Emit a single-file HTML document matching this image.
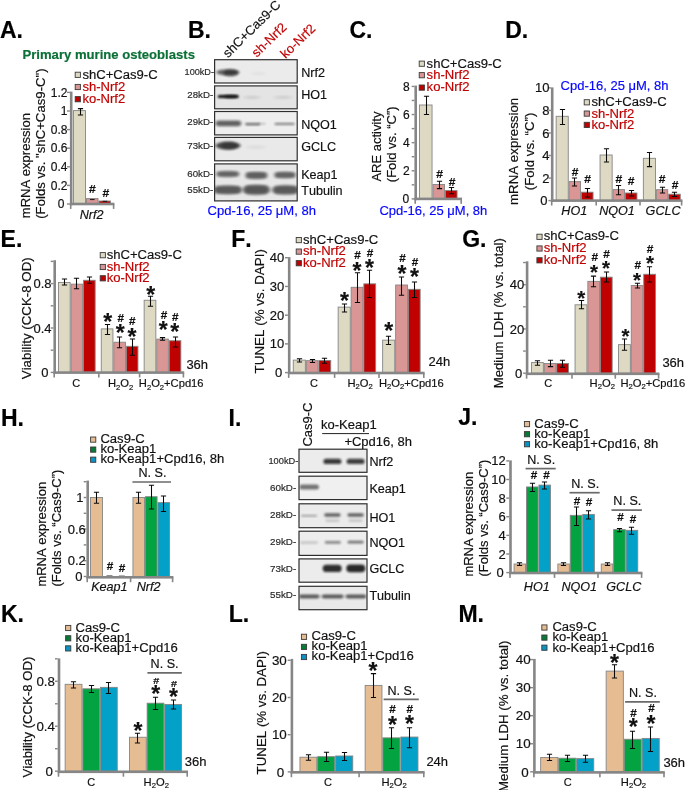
<!DOCTYPE html>
<html><head><meta charset="utf-8"><title>Figure</title>
<style>html,body{margin:0;padding:0;background:#fff}svg{display:block;will-change:transform;opacity:0.9999}text{font-family:"Liberation Sans",sans-serif;font-kerning:none;stroke-width:0.18px}</style></head><body>
<svg width="685" height="790" viewBox="0 0 685 790">
<defs><filter id="b1" x="-30%" y="-80%" width="160%" height="260%"><feGaussianBlur stdDeviation="1.6 1.0"/></filter><filter id="b2" x="-30%" y="-80%" width="160%" height="260%"><feGaussianBlur stdDeviation="1.3 0.8"/></filter><filter id="b3" x="-30%" y="-80%" width="160%" height="260%"><feGaussianBlur stdDeviation="2.2 1.3"/></filter></defs>
<rect width="685" height="790" fill="#fff"/>
<text x="-0.1" y="37.6" font-weight="bold" fill="#000" stroke="#000" font-size="23">A.</text>
<text x="188" y="37.6" font-weight="bold" fill="#000" stroke="#000" font-size="23">B.</text>
<text x="349.5" y="37.6" font-weight="bold" fill="#000" stroke="#000" font-size="23">C.</text>
<text x="505.2" y="37.6" font-weight="bold" fill="#000" stroke="#000" font-size="23">D.</text>
<text x="0.6" y="247.2" font-weight="bold" fill="#000" stroke="#000" font-size="23">E.</text>
<text x="231.3" y="247.2" font-weight="bold" fill="#000" stroke="#000" font-size="23">F.</text>
<text x="462.2" y="247.2" font-weight="bold" fill="#000" stroke="#000" font-size="23">G.</text>
<text x="1" y="425.6" font-weight="bold" fill="#000" stroke="#000" font-size="23">H.</text>
<text x="228.6" y="425.6" font-weight="bold" fill="#000" stroke="#000" font-size="23">I.</text>
<text x="458.2" y="425.4" font-weight="bold" fill="#000" stroke="#000" font-size="23">J.</text>
<text x="1" y="621.8" font-weight="bold" fill="#000" stroke="#000" font-size="23">K.</text>
<text x="228.8" y="622.2" font-weight="bold" fill="#000" stroke="#000" font-size="23">L.</text>
<text x="458.4" y="622.4" font-weight="bold" fill="#000" stroke="#000" font-size="23">M.</text>
<text x="22.5" y="59.3" font-weight="bold" fill="#0b7036" stroke="#0b7036" font-size="13.1">Primary murine osteoblasts</text>
<rect x="73.45" y="110.6" width="12.1" height="93.4" fill="#ddd9c3" stroke="#858585" stroke-width="0.9"/>
<rect x="86.45" y="198.6" width="11.6" height="5.4" fill="#d99694" stroke="#858585" stroke-width="0.9"/>
<rect x="98.95" y="201" width="11.6" height="3" fill="#c00000" stroke="#858585" stroke-width="0.9"/>
<path d="M77.9 108.6H83.1M80.5 108.6V115M77.9 115H83.1" stroke="#0a0a0a" stroke-width="1.05" fill="none"/>
<line x1="90" y1="199.6" x2="94.6" y2="199.6" stroke="#111" stroke-width="1"/>
<line x1="102.6" y1="201.3" x2="107.2" y2="201.3" stroke="#111" stroke-width="1"/>
<rect x="69.9" y="91.6" width="2.6" height="113.7" fill="#868686"/>
<rect x="69.9" y="202.7" width="44.5" height="2.6" fill="#868686"/>
<rect x="69.9" y="204" width="1.6" height="4.9" fill="#868686"/>
<rect x="112.8" y="204" width="1.6" height="4.9" fill="#868686"/>
<rect x="67" y="203.3" width="2.9" height="1.4" fill="#868686"/>
<text x="64.4" y="208.22" text-anchor="end" fill="#111" stroke="#111" font-size="12">0</text>
<rect x="67" y="184.7" width="2.9" height="1.4" fill="#868686"/>
<text x="67.4" y="189.62" text-anchor="end" fill="#111" stroke="#111" font-size="12">0.2</text>
<rect x="67" y="166.1" width="2.9" height="1.4" fill="#868686"/>
<text x="67.4" y="171.02" text-anchor="end" fill="#111" stroke="#111" font-size="12">0.4</text>
<rect x="67" y="147.5" width="2.9" height="1.4" fill="#868686"/>
<text x="67.4" y="152.42" text-anchor="end" fill="#111" stroke="#111" font-size="12">0.6</text>
<rect x="67" y="128.9" width="2.9" height="1.4" fill="#868686"/>
<text x="67.4" y="133.82" text-anchor="end" fill="#111" stroke="#111" font-size="12">0.8</text>
<rect x="67" y="110.3" width="2.9" height="1.4" fill="#868686"/>
<text x="67.4" y="115.22" text-anchor="end" fill="#111" stroke="#111" font-size="12">1</text>
<rect x="67" y="91.7" width="2.9" height="1.4" fill="#868686"/>
<text x="67.4" y="96.62" text-anchor="end" fill="#111" stroke="#111" font-size="12">1.2</text>
<text transform="translate(92.4 192.84) scale(1.14 1)" text-anchor="middle" font-weight="bold" font-size="10.6" fill="#111" stroke="#111" stroke-width="0.45">#</text>
<text transform="translate(105.8 196.64) scale(1.14 1)" text-anchor="middle" font-weight="bold" font-size="10.6" fill="#111" stroke="#111" stroke-width="0.45">#</text>
<text x="91.6" y="219" text-anchor="middle" font-style="italic" fill="#111" stroke="#111" font-size="12.6">Nrf2</text>
<rect x="75.2" y="72.2" width="5.2" height="5.2" fill="#ddd9c3" stroke="#3a3a3a" stroke-width="0.9"/>
<text x="82.4" y="79.1" fill="#111" stroke="#111" font-size="13.08">shC+Cas9-C</text>
<rect x="75.2" y="84.4" width="5.2" height="5.2" fill="#d99694" stroke="#3a3a3a" stroke-width="0.9"/>
<text x="82.4" y="90.8" fill="#c00000" stroke="#c00000" font-size="13.08">sh-Nrf2</text>
<rect x="75.2" y="96.6" width="5.2" height="5.2" fill="#c00000" stroke="#3a3a3a" stroke-width="0.9"/>
<text x="82.4" y="102.6" fill="#c00000" stroke="#c00000" font-size="13.08">ko-Nrf2</text>
<text fill="#111" stroke="#111" transform="translate(29.9 218.2) rotate(-90)" font-size="13.05">mRNA expression</text>
<text fill="#111" stroke="#111" transform="translate(45.4 218.8) rotate(-90)" font-size="13.2">(Folds vs. "shC+Cas9-C")</text>
<rect x="419.45" y="105" width="12.6" height="93.9" fill="#ddd9c3" stroke="#858585" stroke-width="0.9"/>
<rect x="432.95" y="184.5" width="11.6" height="14.4" fill="#d99694" stroke="#858585" stroke-width="0.9"/>
<rect x="445.45" y="190.6" width="11.6" height="8.3" fill="#c00000" stroke="#858585" stroke-width="0.9"/>
<path d="M423.9 96.2H429.1M426.5 96.2V114.5M423.9 114.5H429.1" stroke="#0a0a0a" stroke-width="1.05" fill="none"/>
<path d="M436.9 181.2H442.1M439.5 181.2V188.6M436.9 188.6H442.1" stroke="#0a0a0a" stroke-width="1.05" fill="none"/>
<path d="M448.9 187.5H454.1M451.5 187.5V193.7M448.9 193.7H454.1" stroke="#0a0a0a" stroke-width="1.05" fill="none"/>
<rect x="414.4" y="85.6" width="2.6" height="114.6" fill="#868686"/>
<rect x="414.4" y="197.6" width="47.6" height="2.6" fill="#868686"/>
<rect x="414.4" y="198.9" width="1.6" height="4.9" fill="#868686"/>
<rect x="460.4" y="198.9" width="1.6" height="4.9" fill="#868686"/>
<rect x="411.7" y="198.2" width="2.7" height="1.4" fill="#868686"/>
<text x="409.3" y="203.12" text-anchor="end" fill="#111" stroke="#111" font-size="12">0</text>
<rect x="411.7" y="170.08" width="2.7" height="1.4" fill="#868686"/>
<text x="409.6" y="175" text-anchor="end" fill="#111" stroke="#111" font-size="12">2</text>
<rect x="411.7" y="141.96" width="2.7" height="1.4" fill="#868686"/>
<text x="409.6" y="146.88" text-anchor="end" fill="#111" stroke="#111" font-size="12">4</text>
<rect x="411.7" y="113.84" width="2.7" height="1.4" fill="#868686"/>
<text x="409.6" y="118.76" text-anchor="end" fill="#111" stroke="#111" font-size="12">6</text>
<rect x="411.7" y="85.72" width="2.7" height="1.4" fill="#868686"/>
<text x="409.6" y="90.64" text-anchor="end" fill="#111" stroke="#111" font-size="12">8</text>
<rect x="411.7" y="184.14" width="2.7" height="1.4" fill="#868686"/>
<rect x="411.7" y="156.02" width="2.7" height="1.4" fill="#868686"/>
<rect x="411.7" y="127.9" width="2.7" height="1.4" fill="#868686"/>
<rect x="411.7" y="99.78" width="2.7" height="1.4" fill="#868686"/>
<text transform="translate(439.6 178.04) scale(1.14 1)" text-anchor="middle" font-weight="bold" font-size="10.6" fill="#111" stroke="#111" stroke-width="0.45">#</text>
<text transform="translate(452 185.64) scale(1.14 1)" text-anchor="middle" font-weight="bold" font-size="10.6" fill="#111" stroke="#111" stroke-width="0.45">#</text>
<rect x="419.2" y="61.1" width="5.2" height="5.2" fill="#ddd9c3" stroke="#3a3a3a" stroke-width="0.9"/>
<text x="426.6" y="68" fill="#111" stroke="#111" font-size="13.08">shC+Cas9-C</text>
<rect x="419.2" y="72.6" width="5.2" height="5.2" fill="#d99694" stroke="#3a3a3a" stroke-width="0.9"/>
<text x="426.6" y="79.3" fill="#c00000" stroke="#c00000" font-size="13.08">sh-Nrf2</text>
<rect x="419.2" y="85" width="5.2" height="5.2" fill="#c00000" stroke="#3a3a3a" stroke-width="0.9"/>
<text x="426.6" y="91.4" fill="#c00000" stroke="#c00000" font-size="13.08">ko-Nrf2</text>
<text fill="#111" stroke="#111" transform="translate(381.2 181.6) rotate(-90)" font-size="13">ARE activity</text>
<text fill="#111" stroke="#111" transform="translate(396.3 182.2) rotate(-90)" font-size="13">(Fold vs. “C”)</text>
<text x="379.4" y="215" fill="#0808ff" stroke="#0808ff" font-size="13">Cpd-16, 25 μM, 8h</text>
<rect x="556.15" y="116.3" width="12.1" height="84.3" fill="#ddd9c3" stroke="#858585" stroke-width="0.9"/>
<rect x="569.15" y="181.6" width="11.4" height="19" fill="#d99694" stroke="#858585" stroke-width="0.9"/>
<rect x="581.45" y="192.2" width="11.6" height="8.4" fill="#c00000" stroke="#858585" stroke-width="0.9"/>
<rect x="600.05" y="155" width="12.1" height="45.6" fill="#ddd9c3" stroke="#858585" stroke-width="0.9"/>
<rect x="613.05" y="189.6" width="11.4" height="11" fill="#d99694" stroke="#858585" stroke-width="0.9"/>
<rect x="625.35" y="193" width="11.6" height="7.6" fill="#c00000" stroke="#858585" stroke-width="0.9"/>
<rect x="643.35" y="158.3" width="12.1" height="42.3" fill="#ddd9c3" stroke="#858585" stroke-width="0.9"/>
<rect x="656.35" y="189.7" width="11.4" height="10.9" fill="#d99694" stroke="#858585" stroke-width="0.9"/>
<rect x="668.65" y="194.2" width="11.6" height="6.4" fill="#c00000" stroke="#858585" stroke-width="0.9"/>
<path d="M559.9 109.5H565.1M562.5 109.5V124.4M559.9 124.4H565.1" stroke="#0a0a0a" stroke-width="1.05" fill="none"/>
<path d="M571.9 177.9H577.1M574.5 177.9V186M571.9 186H577.1" stroke="#0a0a0a" stroke-width="1.05" fill="none"/>
<path d="M584.9 188.4H590.1M587.5 188.4V197M584.9 197H590.1" stroke="#0a0a0a" stroke-width="1.05" fill="none"/>
<path d="M603.9 148.7H609.1M606.5 148.7V162M603.9 162H609.1" stroke="#0a0a0a" stroke-width="1.05" fill="none"/>
<path d="M615.9 185.4H621.1M618.5 185.4V194.7M615.9 194.7H621.1" stroke="#0a0a0a" stroke-width="1.05" fill="none"/>
<path d="M628.9 190.5H634.1M631.5 190.5V196M628.9 196H634.1" stroke="#0a0a0a" stroke-width="1.05" fill="none"/>
<path d="M646.9 152.5H652.1M649.5 152.5V166.6M646.9 166.6H652.1" stroke="#0a0a0a" stroke-width="1.05" fill="none"/>
<path d="M659.9 187.2H665.1M662.5 187.2V193M659.9 193H665.1" stroke="#0a0a0a" stroke-width="1.05" fill="none"/>
<path d="M671.9 192.2H677.1M674.5 192.2V196.4M671.9 196.4H677.1" stroke="#0a0a0a" stroke-width="1.05" fill="none"/>
<rect x="550.9" y="87.4" width="2.6" height="114.5" fill="#868686"/>
<rect x="550.9" y="199.3" width="131.5" height="2.6" fill="#868686"/>
<rect x="550.9" y="200.6" width="1.6" height="4.9" fill="#868686"/>
<rect x="595.4" y="200.6" width="1.6" height="4.9" fill="#868686"/>
<rect x="639.2" y="200.6" width="1.6" height="4.9" fill="#868686"/>
<rect x="680.8" y="200.6" width="1.6" height="4.9" fill="#868686"/>
<rect x="548.4" y="199.9" width="2.5" height="1.4" fill="#868686"/>
<text x="547.4" y="205.18" text-anchor="end" fill="#111" stroke="#111" font-size="13">0</text>
<rect x="548.4" y="177.36" width="2.5" height="1.4" fill="#868686"/>
<text x="549.4" y="182.64" text-anchor="end" fill="#111" stroke="#111" font-size="13">2</text>
<rect x="548.4" y="154.82" width="2.5" height="1.4" fill="#868686"/>
<text x="549.4" y="160.1" text-anchor="end" fill="#111" stroke="#111" font-size="13">4</text>
<rect x="548.4" y="132.28" width="2.5" height="1.4" fill="#868686"/>
<text x="549.4" y="137.56" text-anchor="end" fill="#111" stroke="#111" font-size="13">6</text>
<rect x="548.4" y="109.74" width="2.5" height="1.4" fill="#868686"/>
<text x="549.4" y="115.02" text-anchor="end" fill="#111" stroke="#111" font-size="13">8</text>
<rect x="548.4" y="87.2" width="2.5" height="1.4" fill="#868686"/>
<text x="549.4" y="92.48" text-anchor="end" fill="#111" stroke="#111" font-size="13">10</text>
<text transform="translate(575 175.84) scale(1.14 1)" text-anchor="middle" font-weight="bold" font-size="10.6" fill="#111" stroke="#111" stroke-width="0.45">#</text>
<text transform="translate(587.6 183.44) scale(1.14 1)" text-anchor="middle" font-weight="bold" font-size="10.6" fill="#111" stroke="#111" stroke-width="0.45">#</text>
<text transform="translate(618.8 182.74) scale(1.14 1)" text-anchor="middle" font-weight="bold" font-size="10.6" fill="#111" stroke="#111" stroke-width="0.45">#</text>
<text transform="translate(631 185.24) scale(1.14 1)" text-anchor="middle" font-weight="bold" font-size="10.6" fill="#111" stroke="#111" stroke-width="0.45">#</text>
<text transform="translate(662.2 182.74) scale(1.14 1)" text-anchor="middle" font-weight="bold" font-size="10.6" fill="#111" stroke="#111" stroke-width="0.45">#</text>
<text transform="translate(675 188.54) scale(1.14 1)" text-anchor="middle" font-weight="bold" font-size="10.6" fill="#111" stroke="#111" stroke-width="0.45">#</text>
<rect x="584.2" y="99.7" width="5.2" height="5.2" fill="#ddd9c3" stroke="#3a3a3a" stroke-width="0.9"/>
<text x="591.4" y="106.4" fill="#111" stroke="#111" font-size="13.08">shC+Cas9-C</text>
<rect x="584.2" y="111" width="5.2" height="5.2" fill="#d99694" stroke="#3a3a3a" stroke-width="0.9"/>
<text x="591.4" y="117.6" fill="#c00000" stroke="#c00000" font-size="13.08">sh-Nrf2</text>
<rect x="584.2" y="122.3" width="5.2" height="5.2" fill="#c00000" stroke="#3a3a3a" stroke-width="0.9"/>
<text x="591.4" y="128.7" fill="#c00000" stroke="#c00000" font-size="13.08">ko-Nrf2</text>
<text x="560.6" y="89.7" fill="#0808ff" stroke="#0808ff" font-size="13">Cpd-16, 25 μM, 8h</text>
<text text-anchor="middle" fill="#111" stroke="#111" transform="translate(518.2 151.4) rotate(-90)" font-size="13.3">mRNA expression</text>
<text text-anchor="middle" fill="#111" stroke="#111" transform="translate(534.3 151.4) rotate(-90)" font-size="13.3">(Fold vs. “C”)</text>
<text x="574.3" y="214.6" text-anchor="middle" font-style="italic" fill="#111" stroke="#111" font-size="12.6">HO1</text>
<text x="617" y="214.6" text-anchor="middle" font-style="italic" fill="#111" stroke="#111" font-size="12.6">NQO1</text>
<text x="663.1" y="214.6" text-anchor="middle" font-style="italic" fill="#111" stroke="#111" font-size="12.6">GCLC</text>
<rect x="58.45" y="282.49" width="11.7" height="89.91" fill="#ddd9c3" stroke="#858585" stroke-width="0.9"/>
<rect x="71.05" y="284.15" width="11.6" height="88.25" fill="#d99694" stroke="#858585" stroke-width="0.9"/>
<rect x="83.55" y="280.27" width="11.6" height="92.13" fill="#c00000" stroke="#858585" stroke-width="0.9"/>
<rect x="101.25" y="328.89" width="11.7" height="43.51" fill="#ddd9c3" stroke="#858585" stroke-width="0.9"/>
<rect x="113.85" y="342.21" width="11.6" height="30.19" fill="#d99694" stroke="#858585" stroke-width="0.9"/>
<rect x="126.35" y="346.31" width="11.6" height="26.08" fill="#c00000" stroke="#858585" stroke-width="0.9"/>
<rect x="144.15" y="300.25" width="11.7" height="72.15" fill="#ddd9c3" stroke="#858585" stroke-width="0.9"/>
<rect x="156.75" y="339.1" width="11.6" height="33.3" fill="#d99694" stroke="#858585" stroke-width="0.9"/>
<rect x="169.25" y="340.76" width="11.6" height="31.63" fill="#c00000" stroke="#858585" stroke-width="0.9"/>
<path d="M61.9 279H67.1M64.5 279V285M61.9 285H67.1" stroke="#0a0a0a" stroke-width="1.05" fill="none"/>
<path d="M73.9 278.2H79.1M76.5 278.2V288.7M73.9 288.7H79.1" stroke="#0a0a0a" stroke-width="1.05" fill="none"/>
<path d="M86.9 277H92.1M89.5 277V283.2M86.9 283.2H92.1" stroke="#0a0a0a" stroke-width="1.05" fill="none"/>
<path d="M104.9 324.5H110.1M107.5 324.5V334.5M104.9 334.5H110.1" stroke="#0a0a0a" stroke-width="1.05" fill="none"/>
<path d="M116.9 337H122.1M119.5 337V347.7M116.9 347.7H122.1" stroke="#0a0a0a" stroke-width="1.05" fill="none"/>
<path d="M129.9 339H135.1M132.5 339V355.2M129.9 355.2H135.1" stroke="#0a0a0a" stroke-width="1.05" fill="none"/>
<path d="M147.9 296.2H153.1M150.5 296.2V306.2M147.9 306.2H153.1" stroke="#0a0a0a" stroke-width="1.05" fill="none"/>
<path d="M159.9 337.6H165.1M162.5 337.6V340.2M159.9 340.2H165.1" stroke="#0a0a0a" stroke-width="1.05" fill="none"/>
<path d="M172.9 337H178.1M175.5 337V347M172.9 347H178.1" stroke="#0a0a0a" stroke-width="1.05" fill="none"/>
<rect x="53.4" y="260.2" width="2.6" height="113.5" fill="#868686"/>
<rect x="53.4" y="371.3" width="130.8" height="2.6" fill="#868686"/>
<rect x="53.4" y="372.6" width="1.6" height="4.9" fill="#868686"/>
<rect x="98" y="372.6" width="1.6" height="4.9" fill="#868686"/>
<rect x="138.8" y="372.6" width="1.6" height="4.9" fill="#868686"/>
<rect x="182.6" y="372.6" width="1.6" height="4.9" fill="#868686"/>
<rect x="50.7" y="371.7" width="2.7" height="1.4" fill="#868686"/>
<text x="48.6" y="376.98" text-anchor="end" fill="#111" stroke="#111" font-size="13">0</text>
<rect x="50.7" y="327.3" width="2.7" height="1.4" fill="#868686"/>
<text x="51.6" y="332.58" text-anchor="end" fill="#111" stroke="#111" font-size="13">0.4</text>
<rect x="50.7" y="282.9" width="2.7" height="1.4" fill="#868686"/>
<text x="51.6" y="288.18" text-anchor="end" fill="#111" stroke="#111" font-size="13">0.8</text>
<rect x="50.7" y="349.5" width="2.7" height="1.4" fill="#868686"/>
<rect x="50.7" y="305.1" width="2.7" height="1.4" fill="#868686"/>
<rect x="50.7" y="260.7" width="2.7" height="1.4" fill="#868686"/>
<text x="107.8" y="329.57" text-anchor="middle" font-weight="bold" fill="#111" stroke="#111" font-size="23">*</text>
<text x="120.3" y="340.88" text-anchor="middle" font-weight="bold" fill="#111" stroke="#111" font-size="23">*</text>
<text x="132" y="344.77" text-anchor="middle" font-weight="bold" fill="#111" stroke="#111" font-size="23">*</text>
<text x="150.7" y="303.27" text-anchor="middle" font-weight="bold" fill="#111" stroke="#111" font-size="23">*</text>
<text x="163.2" y="338.27" text-anchor="middle" font-weight="bold" fill="#111" stroke="#111" font-size="23">*</text>
<text x="174.7" y="340.27" text-anchor="middle" font-weight="bold" fill="#111" stroke="#111" font-size="23">*</text>
<text transform="translate(120.8 321.93) scale(1.14 1)" text-anchor="middle" font-weight="bold" font-size="10.3" fill="#111" stroke="#111" stroke-width="0.45">#</text>
<text transform="translate(132.3 325.13) scale(1.14 1)" text-anchor="middle" font-weight="bold" font-size="10.3" fill="#111" stroke="#111" stroke-width="0.45">#</text>
<text transform="translate(163.9 318.53) scale(1.14 1)" text-anchor="middle" font-weight="bold" font-size="10.3" fill="#111" stroke="#111" stroke-width="0.45">#</text>
<text transform="translate(175.3 321.33) scale(1.14 1)" text-anchor="middle" font-weight="bold" font-size="10.3" fill="#111" stroke="#111" stroke-width="0.45">#</text>
<rect x="100.2" y="252.6" width="5.2" height="5.2" fill="#ddd9c3" stroke="#3a3a3a" stroke-width="0.9"/>
<text x="106.7" y="258.8" fill="#111" stroke="#111" font-size="13.08">shC+Cas9-C</text>
<rect x="100.2" y="264.4" width="5.2" height="5.2" fill="#d99694" stroke="#3a3a3a" stroke-width="0.9"/>
<text x="106.7" y="270.7" fill="#c00000" stroke="#c00000" font-size="13.08">sh-Nrf2</text>
<rect x="100.2" y="275.7" width="5.2" height="5.2" fill="#c00000" stroke="#3a3a3a" stroke-width="0.9"/>
<text x="106.7" y="282" fill="#c00000" stroke="#c00000" font-size="13.08">ko-Nrf2</text>
<text fill="#111" stroke="#111" transform="translate(31 379.2) rotate(-90)" font-size="13.3">Viability (CCK-8 OD)</text>
<text x="186.4" y="369.3" fill="#111" stroke="#111" font-size="13">36h</text>
<text x="76.3" y="387.3" text-anchor="middle" fill="#111" stroke="#111" font-size="11">C</text>
<text x="108" y="387.3" fill="#111" stroke="#111" font-size="11.2">H<tspan font-size="7.6" dy="2.2">2</tspan><tspan dy="-2.2">O</tspan><tspan font-size="7.6" dy="2.2">2</tspan></text>
<text x="138.8" y="387.3" fill="#111" stroke="#111" font-size="11.2">H<tspan font-size="7.6" dy="2.2">2</tspan><tspan dy="-2.2">O</tspan><tspan font-size="7.6" dy="2.2">2</tspan><tspan dy="-2.2">+Cpd16</tspan></text>
<rect x="293.25" y="360.11" width="12.1" height="12.49" fill="#ddd9c3" stroke="#858585" stroke-width="0.9"/>
<rect x="306.25" y="360.68" width="11.8" height="11.92" fill="#d99694" stroke="#858585" stroke-width="0.9"/>
<rect x="318.95" y="360.54" width="11.8" height="12.06" fill="#c00000" stroke="#858585" stroke-width="0.9"/>
<rect x="338.15" y="307.12" width="12.1" height="65.48" fill="#ddd9c3" stroke="#858585" stroke-width="0.9"/>
<rect x="351.15" y="287.3" width="11.8" height="85.3" fill="#d99694" stroke="#858585" stroke-width="0.9"/>
<rect x="363.85" y="283.86" width="11.8" height="88.74" fill="#c00000" stroke="#858585" stroke-width="0.9"/>
<rect x="382.65" y="340.15" width="12.1" height="32.45" fill="#ddd9c3" stroke="#858585" stroke-width="0.9"/>
<rect x="395.65" y="285" width="11.8" height="87.6" fill="#d99694" stroke="#858585" stroke-width="0.9"/>
<rect x="408.35" y="289.31" width="11.8" height="83.29" fill="#c00000" stroke="#858585" stroke-width="0.9"/>
<path d="M296.9 358.8H302.1M299.5 358.8V362M296.9 362H302.1" stroke="#0a0a0a" stroke-width="1.05" fill="none"/>
<path d="M309.9 359.4H315.1M312.5 359.4V362.4M309.9 362.4H315.1" stroke="#0a0a0a" stroke-width="1.05" fill="none"/>
<path d="M321.9 358.2H327.1M324.5 358.2V363.2M321.9 363.2H327.1" stroke="#0a0a0a" stroke-width="1.05" fill="none"/>
<path d="M341.9 304H347.1M344.5 304V312M341.9 312H347.1" stroke="#0a0a0a" stroke-width="1.05" fill="none"/>
<path d="M354.9 272.7H360.1M357.5 272.7V302.5M354.9 302.5H360.1" stroke="#0a0a0a" stroke-width="1.05" fill="none"/>
<path d="M366.9 270.2H372.1M369.5 270.2V297.5M366.9 297.5H372.1" stroke="#0a0a0a" stroke-width="1.05" fill="none"/>
<path d="M385.9 336.2H391.1M388.5 336.2V344.5M385.9 344.5H391.1" stroke="#0a0a0a" stroke-width="1.05" fill="none"/>
<path d="M398.9 277H404.1M401.5 277V295.2M398.9 295.2H404.1" stroke="#0a0a0a" stroke-width="1.05" fill="none"/>
<path d="M411.9 282H417.1M414.5 282V297.5M411.9 297.5H417.1" stroke="#0a0a0a" stroke-width="1.05" fill="none"/>
<rect x="287.9" y="257.1" width="2.6" height="116.8" fill="#868686"/>
<rect x="287.9" y="371.7" width="136.7" height="2.6" fill="#868686"/>
<rect x="287.9" y="373" width="1.6" height="4.9" fill="#868686"/>
<rect x="333.8" y="373" width="1.6" height="4.9" fill="#868686"/>
<rect x="378.2" y="373" width="1.6" height="4.9" fill="#868686"/>
<rect x="423" y="373" width="1.6" height="4.9" fill="#868686"/>
<rect x="285" y="371.9" width="2.9" height="1.4" fill="#868686"/>
<text x="282.2" y="377.18" text-anchor="end" fill="#111" stroke="#111" font-size="13">0</text>
<rect x="285" y="343.18" width="2.9" height="1.4" fill="#868686"/>
<text x="284.2" y="348.46" text-anchor="end" fill="#111" stroke="#111" font-size="13">10</text>
<rect x="285" y="314.46" width="2.9" height="1.4" fill="#868686"/>
<text x="284.2" y="319.74" text-anchor="end" fill="#111" stroke="#111" font-size="13">20</text>
<rect x="285" y="285.74" width="2.9" height="1.4" fill="#868686"/>
<text x="284.2" y="291.02" text-anchor="end" fill="#111" stroke="#111" font-size="13">30</text>
<rect x="285" y="257.02" width="2.9" height="1.4" fill="#868686"/>
<text x="284.2" y="262.3" text-anchor="end" fill="#111" stroke="#111" font-size="13">40</text>
<text x="344.5" y="309.07" text-anchor="middle" font-weight="bold" fill="#111" stroke="#111" font-size="23">*</text>
<text x="357" y="279.07" text-anchor="middle" font-weight="bold" fill="#111" stroke="#111" font-size="23">*</text>
<text x="369.5" y="276.07" text-anchor="middle" font-weight="bold" fill="#111" stroke="#111" font-size="23">*</text>
<text x="388.7" y="338.57" text-anchor="middle" font-weight="bold" fill="#111" stroke="#111" font-size="23">*</text>
<text x="402" y="282.27" text-anchor="middle" font-weight="bold" fill="#111" stroke="#111" font-size="23">*</text>
<text x="414.5" y="285.27" text-anchor="middle" font-weight="bold" fill="#111" stroke="#111" font-size="23">*</text>
<text transform="translate(357.5 259.43) scale(1.14 1)" text-anchor="middle" font-weight="bold" font-size="10.3" fill="#111" stroke="#111" stroke-width="0.45">#</text>
<text transform="translate(370 256.93) scale(1.14 1)" text-anchor="middle" font-weight="bold" font-size="10.3" fill="#111" stroke="#111" stroke-width="0.45">#</text>
<text transform="translate(402.5 262.43) scale(1.14 1)" text-anchor="middle" font-weight="bold" font-size="10.3" fill="#111" stroke="#111" stroke-width="0.45">#</text>
<text transform="translate(415 265.73) scale(1.14 1)" text-anchor="middle" font-weight="bold" font-size="10.3" fill="#111" stroke="#111" stroke-width="0.45">#</text>
<rect x="296.2" y="237.5" width="5.2" height="5.2" fill="#ddd9c3" stroke="#3a3a3a" stroke-width="0.9"/>
<text x="303" y="243.8" fill="#111" stroke="#111" font-size="13.08">shC+Cas9-C</text>
<rect x="296.2" y="249" width="5.2" height="5.2" fill="#d99694" stroke="#3a3a3a" stroke-width="0.9"/>
<text x="303" y="255.1" fill="#c00000" stroke="#c00000" font-size="13.08">sh-Nrf2</text>
<rect x="296.2" y="260.6" width="5.2" height="5.2" fill="#c00000" stroke="#3a3a3a" stroke-width="0.9"/>
<text x="303" y="266.6" fill="#c00000" stroke="#c00000" font-size="13.08">ko-Nrf2</text>
<text fill="#111" stroke="#111" transform="translate(264.2 373.4) rotate(-90)" font-size="13.4">TUNEL (% vs. DAPI)</text>
<text x="428.6" y="366.2" fill="#111" stroke="#111" font-size="13">24h</text>
<text x="314" y="387" text-anchor="middle" fill="#111" stroke="#111" font-size="11">C</text>
<text x="347.4" y="387" fill="#111" stroke="#111" font-size="11.2">H<tspan font-size="7.6" dy="2.2">2</tspan><tspan dy="-2.2">O</tspan><tspan font-size="7.6" dy="2.2">2</tspan></text>
<text x="379" y="387" fill="#111" stroke="#111" font-size="11.2">H<tspan font-size="7.6" dy="2.2">2</tspan><tspan dy="-2.2">O</tspan><tspan font-size="7.6" dy="2.2">2</tspan><tspan dy="-2.2">+Cpd16</tspan></text>
<rect x="531.45" y="362.58" width="11.9" height="10.62" fill="#ddd9c3" stroke="#858585" stroke-width="0.9"/>
<rect x="544.25" y="363.46" width="11.6" height="9.74" fill="#d99694" stroke="#858585" stroke-width="0.9"/>
<rect x="556.75" y="363.46" width="11.8" height="9.74" fill="#c00000" stroke="#858585" stroke-width="0.9"/>
<rect x="575.05" y="304.82" width="11.9" height="68.38" fill="#ddd9c3" stroke="#858585" stroke-width="0.9"/>
<rect x="587.85" y="281.36" width="11.6" height="91.84" fill="#d99694" stroke="#858585" stroke-width="0.9"/>
<rect x="600.35" y="277.16" width="11.8" height="96.04" fill="#c00000" stroke="#858585" stroke-width="0.9"/>
<rect x="618.45" y="344.65" width="11.9" height="28.55" fill="#ddd9c3" stroke="#858585" stroke-width="0.9"/>
<rect x="631.25" y="285.57" width="11.6" height="87.63" fill="#d99694" stroke="#858585" stroke-width="0.9"/>
<rect x="643.75" y="274.28" width="11.8" height="98.92" fill="#c00000" stroke="#858585" stroke-width="0.9"/>
<path d="M534.9 360.8H540.1M537.5 360.8V365.3M534.9 365.3H540.1" stroke="#0a0a0a" stroke-width="1.05" fill="none"/>
<path d="M547.9 360.3H553.1M550.5 360.3V366.6M547.9 366.6H553.1" stroke="#0a0a0a" stroke-width="1.05" fill="none"/>
<path d="M559.9 360.3H565.1M562.5 360.3V367.3M559.9 367.3H565.1" stroke="#0a0a0a" stroke-width="1.05" fill="none"/>
<path d="M578.9 300.5H584.1M581.5 300.5V308.8M578.9 308.8H584.1" stroke="#0a0a0a" stroke-width="1.05" fill="none"/>
<path d="M590.9 276.1H596.1M593.5 276.1V286.7M590.9 286.7H596.1" stroke="#0a0a0a" stroke-width="1.05" fill="none"/>
<path d="M603.9 271.9H609.1M606.5 271.9V281.9M603.9 281.9H609.1" stroke="#0a0a0a" stroke-width="1.05" fill="none"/>
<path d="M621.9 339H627.1M624.5 339V350.3M621.9 350.3H627.1" stroke="#0a0a0a" stroke-width="1.05" fill="none"/>
<path d="M634.9 283.2H640.1M637.5 283.2V288M634.9 288H640.1" stroke="#0a0a0a" stroke-width="1.05" fill="none"/>
<path d="M646.9 266.8H652.1M649.5 266.8V281.9M646.9 281.9H652.1" stroke="#0a0a0a" stroke-width="1.05" fill="none"/>
<rect x="525.8" y="261.3" width="2.6" height="113.2" fill="#868686"/>
<rect x="525.8" y="372.5" width="133.6" height="2.6" fill="#868686"/>
<rect x="525.8" y="373.8" width="1.6" height="4.9" fill="#868686"/>
<rect x="571.2" y="373.8" width="1.6" height="4.9" fill="#868686"/>
<rect x="614.5" y="373.8" width="1.6" height="4.9" fill="#868686"/>
<rect x="657.8" y="373.8" width="1.6" height="4.9" fill="#868686"/>
<rect x="523.1" y="372.5" width="2.7" height="1.4" fill="#868686"/>
<text x="522.2" y="377.78" text-anchor="end" fill="#111" stroke="#111" font-size="13">0</text>
<rect x="523.1" y="328.24" width="2.7" height="1.4" fill="#868686"/>
<text x="524.2" y="333.52" text-anchor="end" fill="#111" stroke="#111" font-size="13">20</text>
<rect x="523.1" y="283.98" width="2.7" height="1.4" fill="#868686"/>
<text x="524.2" y="289.26" text-anchor="end" fill="#111" stroke="#111" font-size="13">40</text>
<rect x="523.1" y="350.37" width="2.7" height="1.4" fill="#868686"/>
<rect x="523.1" y="306.11" width="2.7" height="1.4" fill="#868686"/>
<rect x="523.1" y="261.85" width="2.7" height="1.4" fill="#868686"/>
<text x="581.2" y="304.76" text-anchor="middle" font-weight="bold" fill="#111" stroke="#111" font-size="20.5">*</text>
<text x="593.9" y="279.06" text-anchor="middle" font-weight="bold" fill="#111" stroke="#111" font-size="20.5">*</text>
<text x="606" y="275.16" text-anchor="middle" font-weight="bold" fill="#111" stroke="#111" font-size="20.5">*</text>
<text x="625.4" y="342.86" text-anchor="middle" font-weight="bold" fill="#111" stroke="#111" font-size="20.5">*</text>
<text x="637.1" y="286.76" text-anchor="middle" font-weight="bold" fill="#111" stroke="#111" font-size="20.5">*</text>
<text x="650" y="270.26" text-anchor="middle" font-weight="bold" fill="#111" stroke="#111" font-size="20.5">*</text>
<text transform="translate(594.7 261.17) scale(1.14 1)" text-anchor="middle" font-weight="bold" font-size="10.4" fill="#111" stroke="#111" stroke-width="0.45">#</text>
<text transform="translate(606.5 257.57) scale(1.14 1)" text-anchor="middle" font-weight="bold" font-size="10.4" fill="#111" stroke="#111" stroke-width="0.45">#</text>
<text transform="translate(637.9 268.77) scale(1.14 1)" text-anchor="middle" font-weight="bold" font-size="10.4" fill="#111" stroke="#111" stroke-width="0.45">#</text>
<text transform="translate(650 252.57) scale(1.14 1)" text-anchor="middle" font-weight="bold" font-size="10.4" fill="#111" stroke="#111" stroke-width="0.45">#</text>
<rect x="536.9" y="234.2" width="5.2" height="5.2" fill="#ddd9c3" stroke="#3a3a3a" stroke-width="0.9"/>
<text x="543.7" y="240.3" fill="#111" stroke="#111" font-size="13.08">shC+Cas9-C</text>
<rect x="536.9" y="245.9" width="5.2" height="5.2" fill="#d99694" stroke="#3a3a3a" stroke-width="0.9"/>
<text x="543.7" y="251.9" fill="#c00000" stroke="#c00000" font-size="13.08">sh-Nrf2</text>
<rect x="536.9" y="257.7" width="5.2" height="5.2" fill="#c00000" stroke="#3a3a3a" stroke-width="0.9"/>
<text x="543.7" y="263.6" fill="#c00000" stroke="#c00000" font-size="13.08">ko-Nrf2</text>
<text fill="#111" stroke="#111" transform="translate(503.2 388.3) rotate(-90)" font-size="13.2">Medium LDH (% vs. total)</text>
<text x="662.4" y="367.3" fill="#111" stroke="#111" font-size="13">36h</text>
<text x="548.2" y="387.2" text-anchor="middle" fill="#111" stroke="#111" font-size="11">C</text>
<text x="589.6" y="387.2" fill="#111" stroke="#111" font-size="11.2">H<tspan font-size="7.6" dy="2.2">2</tspan><tspan dy="-2.2">O</tspan><tspan font-size="7.6" dy="2.2">2</tspan></text>
<text x="620.4" y="387.2" fill="#111" stroke="#111" font-size="11.2">H<tspan font-size="7.6" dy="2.2">2</tspan><tspan dy="-2.2">O</tspan><tspan font-size="7.6" dy="2.2">2</tspan><tspan dy="-2.2">+Cpd16</tspan></text>
<rect x="90.45" y="497.5" width="12.1" height="79" fill="#e6bc93" stroke="#858585" stroke-width="0.9"/>
<line x1="106.5" y1="575.9" x2="112.5" y2="575.9" stroke="#333" stroke-width="0.9"/>
<line x1="118.8" y1="576.1" x2="124.8" y2="576.1" stroke="#333" stroke-width="0.9"/>
<rect x="132.95" y="497.5" width="11.6" height="79" fill="#e6bc93" stroke="#858585" stroke-width="0.9"/>
<rect x="145.45" y="496.71" width="11.6" height="79.79" fill="#03a341" stroke="#858585" stroke-width="0.9"/>
<rect x="157.95" y="502.63" width="11.6" height="73.87" fill="#03a0c8" stroke="#858585" stroke-width="0.9"/>
<path d="M93.9 492.2H99.1M96.5 492.2V503.2M93.9 503.2H99.1" stroke="#0a0a0a" stroke-width="1.05" fill="none"/>
<path d="M135.9 492.2H141.1M138.5 492.2V503.2M135.9 503.2H141.1" stroke="#0a0a0a" stroke-width="1.05" fill="none"/>
<path d="M148.9 485.2H154.1M151.5 485.2V509M148.9 509H154.1" stroke="#0a0a0a" stroke-width="1.05" fill="none"/>
<path d="M160.9 496H166.1M163.5 496V511.5M160.9 511.5H166.1" stroke="#0a0a0a" stroke-width="1.05" fill="none"/>
<rect x="86.4" y="480.6" width="2.6" height="97.2" fill="#868686"/>
<rect x="86.4" y="576" width="87" height="2.6" fill="#868686"/>
<rect x="86.4" y="577.3" width="1.6" height="4.9" fill="#868686"/>
<rect x="129.8" y="577.3" width="1.6" height="4.9" fill="#868686"/>
<rect x="171.8" y="577.3" width="1.6" height="4.9" fill="#868686"/>
<rect x="83.7" y="575.8" width="2.7" height="1.4" fill="#868686"/>
<text x="82.6" y="581.08" text-anchor="end" fill="#111" stroke="#111" font-size="13">0</text>
<rect x="83.7" y="560" width="2.7" height="1.4" fill="#868686"/>
<text x="85.8" y="565.28" text-anchor="end" fill="#111" stroke="#111" font-size="13">0.2</text>
<rect x="83.7" y="528.4" width="2.7" height="1.4" fill="#868686"/>
<text x="85.8" y="533.68" text-anchor="end" fill="#111" stroke="#111" font-size="13">0.6</text>
<rect x="83.7" y="496.8" width="2.7" height="1.4" fill="#868686"/>
<text x="83.4" y="502.08" text-anchor="end" fill="#111" stroke="#111" font-size="13">1</text>
<rect x="83.7" y="544.2" width="2.7" height="1.4" fill="#868686"/>
<rect x="83.7" y="512.6" width="2.7" height="1.4" fill="#868686"/>
<rect x="83.7" y="481" width="2.7" height="1.4" fill="#868686"/>
<text transform="translate(110 570.23) scale(1.14 1)" text-anchor="middle" font-weight="bold" font-size="10.3" fill="#111" stroke="#111" stroke-width="0.45">#</text>
<text transform="translate(122 571.93) scale(1.14 1)" text-anchor="middle" font-weight="bold" font-size="10.3" fill="#111" stroke="#111" stroke-width="0.45">#</text>
<line x1="132.4" y1="482" x2="171" y2="482" stroke="#6a6a6a" stroke-width="1.7"/>
<text x="152.4" y="477" text-anchor="middle" fill="#111" stroke="#111" font-size="12.6">N. S.</text>
<rect x="90.6" y="437" width="5.2" height="5.2" fill="#e6bc93" stroke="#3a3a3a" stroke-width="0.9"/>
<text x="100.4" y="442.8" fill="#111" stroke="#111" font-size="13.08">Cas9-C</text>
<rect x="90.6" y="447" width="5.2" height="5.2" fill="#087a38" stroke="#3a3a3a" stroke-width="0.9"/>
<text x="100.4" y="453.2" fill="#111" stroke="#111" font-size="13.08">ko-Keap1</text>
<rect x="90.6" y="457.1" width="5.2" height="5.2" fill="#0b92c2" stroke="#3a3a3a" stroke-width="0.9"/>
<text x="100.4" y="463.3" fill="#111" stroke="#111" font-size="13.08">ko-Keap1+Cpd16, 8h</text>
<text fill="#111" stroke="#111" transform="translate(45.8 586.6) rotate(-90)" font-size="13">mRNA expression</text>
<text fill="#111" stroke="#111" transform="translate(60.8 586.6) rotate(-90)" font-size="13">(Folds vs. “Cas9-C”)</text>
<text x="109.4" y="591.3" text-anchor="middle" font-style="italic" fill="#111" stroke="#111" font-size="12.6">Keap1</text>
<text x="148.6" y="591.3" text-anchor="middle" font-style="italic" fill="#111" stroke="#111" font-size="12.6">Nrf2</text>
<rect x="514.05" y="564.03" width="11.5" height="8.57" fill="#e6bc93" stroke="#858585" stroke-width="0.9"/>
<rect x="526.45" y="486.95" width="11.6" height="85.65" fill="#03a341" stroke="#858585" stroke-width="0.9"/>
<rect x="538.95" y="485.09" width="11.6" height="87.51" fill="#03a0c8" stroke="#858585" stroke-width="0.9"/>
<rect x="557.85" y="564.03" width="11.5" height="8.57" fill="#e6bc93" stroke="#858585" stroke-width="0.9"/>
<rect x="570.25" y="515.34" width="11.6" height="57.26" fill="#03a341" stroke="#858585" stroke-width="0.9"/>
<rect x="582.75" y="514.51" width="11.6" height="58.09" fill="#03a0c8" stroke="#858585" stroke-width="0.9"/>
<rect x="601.25" y="564.03" width="11.5" height="8.57" fill="#e6bc93" stroke="#858585" stroke-width="0.9"/>
<rect x="613.65" y="529.59" width="11.6" height="43.01" fill="#03a341" stroke="#858585" stroke-width="0.9"/>
<rect x="626.15" y="530.33" width="11.6" height="42.27" fill="#03a0c8" stroke="#858585" stroke-width="0.9"/>
<path d="M516.9 562.8H522.1M519.5 562.8V565.4M516.9 565.4H522.1" stroke="#0a0a0a" stroke-width="1.05" fill="none"/>
<path d="M529.9 483.2H535.1M532.5 483.2V491.5M529.9 491.5H535.1" stroke="#0a0a0a" stroke-width="1.05" fill="none"/>
<path d="M541.9 482H547.1M544.5 482V489M541.9 489H547.1" stroke="#0a0a0a" stroke-width="1.05" fill="none"/>
<path d="M560.9 562.8H566.1M563.5 562.8V565.4M560.9 565.4H566.1" stroke="#0a0a0a" stroke-width="1.05" fill="none"/>
<path d="M573.9 507H579.1M576.5 507V525.4M573.9 525.4H579.1" stroke="#0a0a0a" stroke-width="1.05" fill="none"/>
<path d="M585.9 510.8H591.1M588.5 510.8V518.9M585.9 518.9H591.1" stroke="#0a0a0a" stroke-width="1.05" fill="none"/>
<path d="M604.9 562.8H610.1M607.5 562.8V565.4M604.9 565.4H610.1" stroke="#0a0a0a" stroke-width="1.05" fill="none"/>
<path d="M616.9 528.4H622.1M619.5 528.4V531.7M616.9 531.7H622.1" stroke="#0a0a0a" stroke-width="1.05" fill="none"/>
<path d="M628.9 527.2H634.1M631.5 527.2V534.2M628.9 534.2H634.1" stroke="#0a0a0a" stroke-width="1.05" fill="none"/>
<rect x="509.2" y="460.4" width="2.6" height="113.5" fill="#868686"/>
<rect x="509.2" y="571.7" width="133.2" height="2.6" fill="#868686"/>
<rect x="509.2" y="573" width="1.6" height="4.9" fill="#868686"/>
<rect x="553.7" y="573" width="1.6" height="4.9" fill="#868686"/>
<rect x="597.2" y="573" width="1.6" height="4.9" fill="#868686"/>
<rect x="640.8" y="573" width="1.6" height="4.9" fill="#868686"/>
<rect x="506.3" y="571.9" width="2.9" height="1.4" fill="#868686"/>
<text x="503.8" y="577.18" text-anchor="end" fill="#111" stroke="#111" font-size="13">0</text>
<rect x="506.3" y="553.28" width="2.9" height="1.4" fill="#868686"/>
<text x="505.8" y="558.56" text-anchor="end" fill="#111" stroke="#111" font-size="13">2</text>
<rect x="506.3" y="534.66" width="2.9" height="1.4" fill="#868686"/>
<text x="505.8" y="539.94" text-anchor="end" fill="#111" stroke="#111" font-size="13">4</text>
<rect x="506.3" y="516.04" width="2.9" height="1.4" fill="#868686"/>
<text x="505.8" y="521.32" text-anchor="end" fill="#111" stroke="#111" font-size="13">6</text>
<rect x="506.3" y="497.42" width="2.9" height="1.4" fill="#868686"/>
<text x="505.8" y="502.7" text-anchor="end" fill="#111" stroke="#111" font-size="13">8</text>
<rect x="506.3" y="478.8" width="2.9" height="1.4" fill="#868686"/>
<text x="505.8" y="484.08" text-anchor="end" fill="#111" stroke="#111" font-size="13">10</text>
<rect x="506.3" y="460.18" width="2.9" height="1.4" fill="#868686"/>
<text x="505.8" y="465.46" text-anchor="end" fill="#111" stroke="#111" font-size="13">12</text>
<text transform="translate(533.9 479.43) scale(1.14 1)" text-anchor="middle" font-weight="bold" font-size="10.3" fill="#111" stroke="#111" stroke-width="0.45">#</text>
<text transform="translate(546.4 478.93) scale(1.14 1)" text-anchor="middle" font-weight="bold" font-size="10.3" fill="#111" stroke="#111" stroke-width="0.45">#</text>
<text transform="translate(577 504.53) scale(1.14 1)" text-anchor="middle" font-weight="bold" font-size="10.3" fill="#111" stroke="#111" stroke-width="0.45">#</text>
<text transform="translate(589.1 506.23) scale(1.14 1)" text-anchor="middle" font-weight="bold" font-size="10.3" fill="#111" stroke="#111" stroke-width="0.45">#</text>
<text transform="translate(620.5 521.33) scale(1.14 1)" text-anchor="middle" font-weight="bold" font-size="10.3" fill="#111" stroke="#111" stroke-width="0.45">#</text>
<text transform="translate(633.1 523.33) scale(1.14 1)" text-anchor="middle" font-weight="bold" font-size="10.3" fill="#111" stroke="#111" stroke-width="0.45">#</text>
<line x1="525.6" y1="468.6" x2="555.7" y2="468.6" stroke="#6a6a6a" stroke-width="1.7"/>
<text x="541.2" y="464.4" text-anchor="middle" fill="#111" stroke="#111" font-size="12.6">N. S.</text>
<line x1="569.5" y1="492.7" x2="599.7" y2="492.7" stroke="#6a6a6a" stroke-width="1.7"/>
<text x="585.2" y="487.7" text-anchor="middle" fill="#111" stroke="#111" font-size="12.6">N. S.</text>
<line x1="611.5" y1="510.1" x2="641.9" y2="510.1" stroke="#6a6a6a" stroke-width="1.7"/>
<text x="627.3" y="505" text-anchor="middle" fill="#111" stroke="#111" font-size="12.6">N. S.</text>
<rect x="524.4" y="421.5" width="5.2" height="5.2" fill="#e6bc93" stroke="#3a3a3a" stroke-width="0.9"/>
<text x="534.3" y="427.8" fill="#111" stroke="#111" font-size="13.08">Cas9-C</text>
<rect x="524.4" y="431.6" width="5.2" height="5.2" fill="#087a38" stroke="#3a3a3a" stroke-width="0.9"/>
<text x="534.3" y="438.3" fill="#111" stroke="#111" font-size="13.08">ko-Keap1</text>
<rect x="524.4" y="441.6" width="5.2" height="5.2" fill="#0b92c2" stroke="#3a3a3a" stroke-width="0.9"/>
<text x="534.3" y="448.4" fill="#111" stroke="#111" font-size="13.08">ko-Keap1+Cpd16, 8h</text>
<text fill="#111" stroke="#111" transform="translate(472.8 576.6) rotate(-90)" font-size="13">mRNA expression</text>
<text fill="#111" stroke="#111" transform="translate(487.8 576.6) rotate(-90)" font-size="13">(Folds vs. “Cas9-C”)</text>
<text x="536.8" y="591" text-anchor="middle" font-style="italic" fill="#111" stroke="#111" font-size="12.6">HO1</text>
<text x="579.3" y="591" text-anchor="middle" font-style="italic" fill="#111" stroke="#111" font-size="12.6">NQO1</text>
<text x="623.8" y="591" text-anchor="middle" font-style="italic" fill="#111" stroke="#111" font-size="12.6">GCLC</text>
<rect x="65.15" y="684.31" width="16.8" height="86.89" fill="#e6bc93" stroke="#858585" stroke-width="0.9"/>
<rect x="82.85" y="688.81" width="16.7" height="82.39" fill="#03a341" stroke="#858585" stroke-width="0.9"/>
<rect x="100.45" y="687.35" width="16.8" height="83.85" fill="#03a0c8" stroke="#858585" stroke-width="0.9"/>
<rect x="129.45" y="737.26" width="16.8" height="33.94" fill="#e6bc93" stroke="#858585" stroke-width="0.9"/>
<rect x="147.15" y="703.2" width="16.7" height="68" fill="#03a341" stroke="#858585" stroke-width="0.9"/>
<rect x="164.75" y="704.43" width="16.8" height="66.77" fill="#03a0c8" stroke="#858585" stroke-width="0.9"/>
<path d="M70.9 681.7H76.1M73.5 681.7V688M70.9 688H76.1" stroke="#0a0a0a" stroke-width="1.05" fill="none"/>
<path d="M88.9 685.5H94.1M91.5 685.5V692.5M88.9 692.5H94.1" stroke="#0a0a0a" stroke-width="1.05" fill="none"/>
<path d="M105.9 682.4H111.1M108.5 682.4V693.5M105.9 693.5H111.1" stroke="#0a0a0a" stroke-width="1.05" fill="none"/>
<path d="M134.9 733.3H140.1M137.5 733.3V742.9M134.9 742.9H140.1" stroke="#0a0a0a" stroke-width="1.05" fill="none"/>
<path d="M152.9 697.3H158.1M155.5 697.3V709.4M152.9 709.4H158.1" stroke="#0a0a0a" stroke-width="1.05" fill="none"/>
<path d="M170.9 700H176.1M173.5 700V708.9M170.9 708.9H176.1" stroke="#0a0a0a" stroke-width="1.05" fill="none"/>
<rect x="57.7" y="658.4" width="2.6" height="114.1" fill="#868686"/>
<rect x="57.7" y="770.5" width="130.3" height="2.6" fill="#868686"/>
<rect x="57.7" y="771.8" width="1.6" height="4.9" fill="#868686"/>
<rect x="122.6" y="771.8" width="1.6" height="4.9" fill="#868686"/>
<rect x="186.4" y="771.8" width="1.6" height="4.9" fill="#868686"/>
<rect x="55" y="770.5" width="2.7" height="1.4" fill="#868686"/>
<text x="52.9" y="775.88" text-anchor="end" fill="#111" stroke="#111" font-size="13.3">0</text>
<rect x="55" y="725.54" width="2.7" height="1.4" fill="#868686"/>
<text x="54.9" y="730.92" text-anchor="end" fill="#111" stroke="#111" font-size="13.3">0.4</text>
<rect x="55" y="680.58" width="2.7" height="1.4" fill="#868686"/>
<text x="54.9" y="685.96" text-anchor="end" fill="#111" stroke="#111" font-size="13.3">0.8</text>
<rect x="55" y="748.02" width="2.7" height="1.4" fill="#868686"/>
<rect x="55" y="703.06" width="2.7" height="1.4" fill="#868686"/>
<rect x="55" y="658.1" width="2.7" height="1.4" fill="#868686"/>
<text x="137.9" y="738.58" text-anchor="middle" font-weight="bold" fill="#111" stroke="#111" font-size="23">*</text>
<text x="155.7" y="702.08" text-anchor="middle" font-weight="bold" fill="#111" stroke="#111" font-size="23">*</text>
<text x="173.5" y="705.48" text-anchor="middle" font-weight="bold" fill="#111" stroke="#111" font-size="23">*</text>
<text transform="translate(156.3 683.61) scale(1.14 1)" text-anchor="middle" font-weight="bold" font-size="9.4" fill="#111" stroke="#111" stroke-width="0.45">#</text>
<text transform="translate(174 687.01) scale(1.14 1)" text-anchor="middle" font-weight="bold" font-size="9.4" fill="#111" stroke="#111" stroke-width="0.45">#</text>
<line x1="147.4" y1="672.9" x2="181.8" y2="672.9" stroke="#6a6a6a" stroke-width="1.7"/>
<text x="164.6" y="667.8" text-anchor="middle" fill="#111" stroke="#111" font-size="12.6">N. S.</text>
<rect x="65.6" y="625.4" width="5.2" height="5.2" fill="#e6bc93" stroke="#3a3a3a" stroke-width="0.9"/>
<text x="75.6" y="631.8" fill="#111" stroke="#111" font-size="13.08">Cas9-C</text>
<rect x="65.6" y="635.7" width="5.2" height="5.2" fill="#087a38" stroke="#3a3a3a" stroke-width="0.9"/>
<text x="75.6" y="642.1" fill="#111" stroke="#111" font-size="13.08">ko-Keap1</text>
<rect x="65.6" y="645.8" width="5.2" height="5.2" fill="#0b92c2" stroke="#3a3a3a" stroke-width="0.9"/>
<text x="75.6" y="652.2" fill="#111" stroke="#111" font-size="13.08">ko-Keap1+Cpd16</text>
<text fill="#111" stroke="#111" transform="translate(31.8 777.4) rotate(-90)" font-size="13.2">Viability (CCK-8 OD)</text>
<text x="184.8" y="766" fill="#111" stroke="#111" font-size="13">36h</text>
<text x="91.2" y="786.2" text-anchor="middle" fill="#111" stroke="#111" font-size="11">C</text>
<text x="143.6" y="786.2" fill="#111" stroke="#111" font-size="11.2">H<tspan font-size="7.6" dy="2.2">2</tspan><tspan dy="-2.2">O</tspan><tspan font-size="7.6" dy="2.2">2</tspan></text>
<rect x="299.95" y="757.21" width="16.8" height="14.69" fill="#e6bc93" stroke="#858585" stroke-width="0.9"/>
<rect x="317.65" y="756.69" width="17.1" height="15.21" fill="#03a341" stroke="#858585" stroke-width="0.9"/>
<rect x="335.65" y="755.98" width="17.1" height="15.92" fill="#03a0c8" stroke="#858585" stroke-width="0.9"/>
<rect x="365.15" y="685.41" width="16.8" height="86.49" fill="#e6bc93" stroke="#858585" stroke-width="0.9"/>
<rect x="382.85" y="737.86" width="17.1" height="34.04" fill="#03a341" stroke="#858585" stroke-width="0.9"/>
<rect x="400.85" y="737.04" width="17.1" height="34.86" fill="#03a0c8" stroke="#858585" stroke-width="0.9"/>
<path d="M305.9 754.7H311.1M308.5 754.7V760.3M305.9 760.3H311.1" stroke="#0a0a0a" stroke-width="1.05" fill="none"/>
<path d="M323.9 752.2H329.1M326.5 752.2V761.5M323.9 761.5H329.1" stroke="#0a0a0a" stroke-width="1.05" fill="none"/>
<path d="M341.9 752.4H347.1M344.5 752.4V760.4M341.9 760.4H347.1" stroke="#0a0a0a" stroke-width="1.05" fill="none"/>
<path d="M370.9 673.6H376.1M373.5 673.6V697.5M370.9 697.5H376.1" stroke="#0a0a0a" stroke-width="1.05" fill="none"/>
<path d="M388.9 727.8H394.1M391.5 727.8V748.4M388.9 748.4H394.1" stroke="#0a0a0a" stroke-width="1.05" fill="none"/>
<path d="M406.9 727.8H412.1M409.5 727.8V747.7M406.9 747.7H412.1" stroke="#0a0a0a" stroke-width="1.05" fill="none"/>
<rect x="290.6" y="658.9" width="2.6" height="114.3" fill="#868686"/>
<rect x="290.6" y="771" width="134" height="2.6" fill="#868686"/>
<rect x="290.6" y="772.3" width="1.6" height="4.9" fill="#868686"/>
<rect x="358.3" y="772.3" width="1.6" height="4.9" fill="#868686"/>
<rect x="423" y="772.3" width="1.6" height="4.9" fill="#868686"/>
<rect x="287.7" y="771.2" width="2.9" height="1.4" fill="#868686"/>
<text x="284.2" y="776.62" text-anchor="end" fill="#111" stroke="#111" font-size="13.4">0</text>
<rect x="287.7" y="734" width="2.9" height="1.4" fill="#868686"/>
<text x="286.8" y="739.42" text-anchor="end" fill="#111" stroke="#111" font-size="13.4">10</text>
<rect x="287.7" y="696.8" width="2.9" height="1.4" fill="#868686"/>
<text x="286.8" y="702.22" text-anchor="end" fill="#111" stroke="#111" font-size="13.4">20</text>
<rect x="287.7" y="659.6" width="2.9" height="1.4" fill="#868686"/>
<text x="286.8" y="665.02" text-anchor="end" fill="#111" stroke="#111" font-size="13.4">30</text>
<text x="373" y="678.68" text-anchor="middle" font-weight="bold" fill="#111" stroke="#111" font-size="23">*</text>
<text x="392.4" y="732.78" text-anchor="middle" font-weight="bold" fill="#111" stroke="#111" font-size="23">*</text>
<text x="409.5" y="732.28" text-anchor="middle" font-weight="bold" fill="#111" stroke="#111" font-size="23">*</text>
<text transform="translate(392.4 713.13) scale(1.14 1)" text-anchor="middle" font-weight="bold" font-size="10.3" fill="#111" stroke="#111" stroke-width="0.45">#</text>
<text transform="translate(409.8 712.73) scale(1.14 1)" text-anchor="middle" font-weight="bold" font-size="10.3" fill="#111" stroke="#111" stroke-width="0.45">#</text>
<line x1="383.6" y1="699.3" x2="418.8" y2="699.3" stroke="#6a6a6a" stroke-width="1.7"/>
<text x="401.5" y="694.8" text-anchor="middle" fill="#111" stroke="#111" font-size="12.6">N. S.</text>
<rect x="301.4" y="634.2" width="5.2" height="5.2" fill="#e6bc93" stroke="#3a3a3a" stroke-width="0.9"/>
<text x="311.6" y="640.1" fill="#111" stroke="#111" font-size="13.08">Cas9-C</text>
<rect x="301.4" y="644.3" width="5.2" height="5.2" fill="#087a38" stroke="#3a3a3a" stroke-width="0.9"/>
<text x="311.6" y="650.2" fill="#111" stroke="#111" font-size="13.08">ko-Keap1</text>
<rect x="301.4" y="654.4" width="5.2" height="5.2" fill="#0b92c2" stroke="#3a3a3a" stroke-width="0.9"/>
<text x="311.6" y="660.3" fill="#111" stroke="#111" font-size="13.08">ko-Keap1+Cpd16</text>
<text fill="#111" stroke="#111" transform="translate(266 774.4) rotate(-90)" font-size="13.3">TUNEL (% vs. DAPI)</text>
<text x="426.4" y="765.6" fill="#111" stroke="#111" font-size="13">24h</text>
<text x="327.9" y="786.2" text-anchor="middle" fill="#111" stroke="#111" font-size="11">C</text>
<text x="381.5" y="786.2" fill="#111" stroke="#111" font-size="11.2">H<tspan font-size="7.6" dy="2.2">2</tspan><tspan dy="-2.2">O</tspan><tspan font-size="7.6" dy="2.2">2</tspan></text>
<rect x="540.65" y="757.49" width="17.2" height="14.31" fill="#e6bc93" stroke="#858585" stroke-width="0.9"/>
<rect x="558.75" y="758.2" width="17" height="13.6" fill="#03a341" stroke="#858585" stroke-width="0.9"/>
<rect x="576.65" y="758.62" width="17.1" height="13.18" fill="#03a0c8" stroke="#858585" stroke-width="0.9"/>
<rect x="606.15" y="671.1" width="17.2" height="100.7" fill="#e6bc93" stroke="#858585" stroke-width="0.9"/>
<rect x="624.25" y="739.26" width="17" height="32.54" fill="#03a341" stroke="#858585" stroke-width="0.9"/>
<rect x="642.15" y="738.42" width="17.1" height="33.38" fill="#03a0c8" stroke="#858585" stroke-width="0.9"/>
<path d="M546.9 754.2H552.1M549.5 754.2V760.5M546.9 760.5H552.1" stroke="#0a0a0a" stroke-width="1.05" fill="none"/>
<path d="M564.9 755.2H570.1M567.5 755.2V761.5M564.9 761.5H570.1" stroke="#0a0a0a" stroke-width="1.05" fill="none"/>
<path d="M582.9 755.2H588.1M585.5 755.2V762.2M582.9 762.2H588.1" stroke="#0a0a0a" stroke-width="1.05" fill="none"/>
<path d="M611.9 664.8H617.1M614.5 664.8V677.9M611.9 677.9H617.1" stroke="#0a0a0a" stroke-width="1.05" fill="none"/>
<path d="M629.9 731.3H635.1M632.5 731.3V748.4M629.9 748.4H635.1" stroke="#0a0a0a" stroke-width="1.05" fill="none"/>
<path d="M647.9 727H653.1M650.5 727V751.4M647.9 751.4H653.1" stroke="#0a0a0a" stroke-width="1.05" fill="none"/>
<rect x="533.1" y="658.9" width="2.6" height="114.2" fill="#868686"/>
<rect x="533.1" y="771.1" width="131.7" height="2.6" fill="#868686"/>
<rect x="533.1" y="772.4" width="1.6" height="4.9" fill="#868686"/>
<rect x="599.1" y="772.4" width="1.6" height="4.9" fill="#868686"/>
<rect x="663.2" y="772.4" width="1.6" height="4.9" fill="#868686"/>
<rect x="530.2" y="771.1" width="2.9" height="1.4" fill="#868686"/>
<text x="528.6" y="776.52" text-anchor="end" fill="#111" stroke="#111" font-size="13.4">0</text>
<rect x="530.2" y="743.05" width="2.9" height="1.4" fill="#868686"/>
<text x="530.6" y="748.47" text-anchor="end" fill="#111" stroke="#111" font-size="13.4">10</text>
<rect x="530.2" y="715" width="2.9" height="1.4" fill="#868686"/>
<text x="530.6" y="720.42" text-anchor="end" fill="#111" stroke="#111" font-size="13.4">20</text>
<rect x="530.2" y="686.95" width="2.9" height="1.4" fill="#868686"/>
<text x="530.6" y="692.37" text-anchor="end" fill="#111" stroke="#111" font-size="13.4">30</text>
<rect x="530.2" y="658.9" width="2.9" height="1.4" fill="#868686"/>
<text x="530.6" y="664.32" text-anchor="end" fill="#111" stroke="#111" font-size="13.4">40</text>
<text x="614.5" y="670.58" text-anchor="middle" font-weight="bold" fill="#111" stroke="#111" font-size="23">*</text>
<text x="633.2" y="735.28" text-anchor="middle" font-weight="bold" fill="#111" stroke="#111" font-size="23">*</text>
<text x="651" y="731.58" text-anchor="middle" font-weight="bold" fill="#111" stroke="#111" font-size="23">*</text>
<text transform="translate(633.4 716.93) scale(1.14 1)" text-anchor="middle" font-weight="bold" font-size="10.3" fill="#111" stroke="#111" stroke-width="0.45">#</text>
<text transform="translate(651.5 711.83) scale(1.14 1)" text-anchor="middle" font-weight="bold" font-size="10.3" fill="#111" stroke="#111" stroke-width="0.45">#</text>
<line x1="625.1" y1="701.8" x2="659.8" y2="701.8" stroke="#6a6a6a" stroke-width="1.7"/>
<text x="643" y="696.8" text-anchor="middle" fill="#111" stroke="#111" font-size="12.6">N. S.</text>
<rect x="541.8" y="624.9" width="5.2" height="5.2" fill="#e6bc93" stroke="#3a3a3a" stroke-width="0.9"/>
<text x="552.4" y="630.8" fill="#111" stroke="#111" font-size="13.08">Cas9-C</text>
<rect x="541.8" y="635" width="5.2" height="5.2" fill="#087a38" stroke="#3a3a3a" stroke-width="0.9"/>
<text x="552.4" y="641.3" fill="#111" stroke="#111" font-size="13.08">ko-Keap1</text>
<rect x="541.8" y="645.1" width="5.2" height="5.2" fill="#0b92c2" stroke="#3a3a3a" stroke-width="0.9"/>
<text x="552.4" y="651.5" fill="#111" stroke="#111" font-size="13.08">ko-Keap1+Cpd16</text>
<text fill="#111" stroke="#111" transform="translate(508.3 792) rotate(-90)" font-size="13.3">Medium LDH (% vs. total)</text>
<text x="663.4" y="767.3" fill="#111" stroke="#111" font-size="13">36h</text>
<text x="567.7" y="786.2" text-anchor="middle" fill="#111" stroke="#111" font-size="11">C</text>
<text x="620.8" y="786.2" fill="#111" stroke="#111" font-size="11.2">H<tspan font-size="7.6" dy="2.2">2</tspan><tspan dy="-2.2">O</tspan><tspan font-size="7.6" dy="2.2">2</tspan></text>
<rect x="214.6" y="59.7" width="82.6" height="23.3" fill="#ebebeb" stroke="#2e2e2e" stroke-width="1.2"/>
<rect x="214.6" y="85.9" width="82.6" height="22.9" fill="#e4e4e4" stroke="#2e2e2e" stroke-width="1.2"/>
<rect x="214.6" y="111.5" width="82.6" height="23.4" fill="#eeeeee" stroke="#2e2e2e" stroke-width="1.2"/>
<rect x="214.6" y="137.4" width="82.6" height="23.4" fill="#e9e9e9" stroke="#2e2e2e" stroke-width="1.2"/>
<rect x="214.6" y="163.9" width="82.6" height="37" fill="#e7e7e7" stroke="#2e2e2e" stroke-width="1.2"/>
<clipPath id="cB"><rect x="215" y="59" width="82" height="143"/></clipPath><g clip-path="url(#cB)">
<ellipse cx="227.8" cy="72.3" rx="11.5" ry="3.1" fill="#111" opacity="0.62" filter="url(#b1)"/>
<ellipse cx="231" cy="72.9" rx="7.5" ry="3.7" fill="#111" opacity="0.45" filter="url(#b2)"/>
<ellipse cx="258.5" cy="73.6" rx="7" ry="1.75" fill="#111" opacity="0.04" filter="url(#b3)"/>
<rect x="217.7" y="95" width="21" height="3" rx="1.5" fill="#111" opacity="1" filter="url(#b2)"/>
<ellipse cx="230.6" cy="96.5" rx="7" ry="1.8" fill="#111" opacity="0.6" filter="url(#b2)"/>
<ellipse cx="252" cy="97.4" rx="8" ry="1.3" fill="#111" opacity="0.13" filter="url(#b3)"/>
<ellipse cx="283" cy="97.4" rx="9" ry="1.3" fill="#111" opacity="0.12" filter="url(#b3)"/>
<rect x="215.65" y="120.4" width="25.5" height="5.8" rx="2.9" fill="#111" opacity="0.62" filter="url(#b1)"/>
<rect x="245.1" y="123" width="15" height="2.2" rx="1.1" fill="#111" opacity="0.6" filter="url(#b2)"/>
<ellipse cx="262" cy="123.8" rx="4" ry="0.75" fill="#111" opacity="0.28" filter="url(#b2)"/>
<rect x="274.6" y="122.95" width="20" height="1.9" rx="0.95" fill="#111" opacity="0.58" filter="url(#b2)"/>
<ellipse cx="228" cy="145.6" rx="12.5" ry="4.2" fill="#111" opacity="0.72" filter="url(#b1)"/>
<ellipse cx="229.6" cy="145.7" rx="8.5" ry="3.5" fill="#111" opacity="0.3" filter="url(#b2)"/>
<ellipse cx="256" cy="147.2" rx="10" ry="2" fill="#111" opacity="0.05" filter="url(#b3)"/>
<rect x="216.3" y="171.2" width="23" height="5.6" rx="2.8" fill="#111" opacity="0.5" filter="url(#b1)"/>
<ellipse cx="227.8" cy="174" rx="10" ry="3.5" fill="#111" opacity="0.2" filter="url(#b1)"/>
<rect x="245.4" y="172.1" width="22" height="6.6" rx="3.3" fill="#111" opacity="0.52" filter="url(#b1)"/>
<ellipse cx="256.4" cy="175.4" rx="9.5" ry="4" fill="#111" opacity="0.2" filter="url(#b1)"/>
<rect x="274.25" y="171.9" width="21.5" height="6.2" rx="3.1" fill="#111" opacity="0.5" filter="url(#b1)"/>
<ellipse cx="285" cy="175" rx="9.5" ry="3.8" fill="#111" opacity="0.2" filter="url(#b1)"/>
<rect x="213.8" y="185.7" width="28" height="8.4" rx="4.2" fill="#111" opacity="0.5" filter="url(#b1)"/>
<ellipse cx="227.8" cy="189.9" rx="12" ry="5.1" fill="#111" opacity="0.2" filter="url(#b1)"/>
<rect x="243.15" y="185" width="26.5" height="9.4" rx="4.7" fill="#111" opacity="0.52" filter="url(#b1)"/>
<ellipse cx="256.4" cy="189.7" rx="11.5" ry="5.7" fill="#111" opacity="0.2" filter="url(#b1)"/>
<rect x="272.6" y="185.5" width="26" height="8.8" rx="4.4" fill="#111" opacity="0.5" filter="url(#b1)"/>
<ellipse cx="285.6" cy="189.9" rx="11.5" ry="5.3" fill="#111" opacity="0.2" filter="url(#b1)"/>
<rect x="215" y="187.4" width="82" height="5" fill="#111" opacity="0.12" filter="url(#b2)"/>
</g>
<text x="301.2" y="77" fill="#111" stroke="#111" font-size="12.6">Nrf2</text>
<text x="301.2" y="99.3" fill="#111" stroke="#111" font-size="12.6">HO1</text>
<text x="301.2" y="128.7" fill="#111" stroke="#111" font-size="12.6">NQO1</text>
<text x="301.2" y="151.3" fill="#111" stroke="#111" font-size="12.6">GCLC</text>
<text x="301.2" y="178.8" fill="#111" stroke="#111" font-size="12.6">Keap1</text>
<text x="301.2" y="195.2" fill="#111" stroke="#111" font-size="12.6">Tubulin</text>
<text x="214" y="74.99" text-anchor="end" fill="#2a2a2a" stroke="#2a2a2a" font-size="9.15">100kD-</text>
<text x="213.2" y="98.39" text-anchor="end" fill="#2a2a2a" stroke="#2a2a2a" font-size="9.7">28kD-</text>
<text x="213.2" y="125.49" text-anchor="end" fill="#2a2a2a" stroke="#2a2a2a" font-size="9.7">29kD-</text>
<text x="213.2" y="148.69" text-anchor="end" fill="#2a2a2a" stroke="#2a2a2a" font-size="9.7">73kD-</text>
<text x="213.2" y="177.49" text-anchor="end" fill="#2a2a2a" stroke="#2a2a2a" font-size="9.7">60kD-</text>
<text x="213.2" y="192.89" text-anchor="end" fill="#2a2a2a" stroke="#2a2a2a" font-size="9.7">55kD-</text>
<text fill="#111" stroke="#111" transform="translate(228 58.2) rotate(-44.5)" font-size="13">shC+Cas9-C</text>
<text fill="#c00000" stroke="#c00000" transform="translate(256.8 57.8) rotate(-44)" font-size="13">sh-Nrf2</text>
<text fill="#c00000" stroke="#c00000" transform="translate(285.6 59) rotate(-44)" font-size="13">ko-Nrf2</text>
<text x="207.6" y="214.7" fill="#0808ff" stroke="#0808ff" font-size="13.05">Cpd-16, 25 μM, 8h</text>
<rect x="299" y="449.2" width="68" height="23.1" fill="#ececec" stroke="#2e2e2e" stroke-width="1.2"/>
<rect x="299" y="476.2" width="68" height="23.4" fill="#f0f0f0" stroke="#2e2e2e" stroke-width="1.2"/>
<rect x="299" y="503.8" width="68" height="23.9" fill="#ebebeb" stroke="#2e2e2e" stroke-width="1.2"/>
<rect x="299" y="531.2" width="68" height="24.2" fill="#ededed" stroke="#2e2e2e" stroke-width="1.2"/>
<rect x="299" y="558.9" width="68" height="23.3" fill="#ececec" stroke="#2e2e2e" stroke-width="1.2"/>
<rect x="299" y="586.3" width="68" height="23.4" fill="#e9e9e9" stroke="#2e2e2e" stroke-width="1.2"/>
<clipPath id="cI"><rect x="299.4" y="448" width="67.4" height="163"/></clipPath><g clip-path="url(#cI)">
<rect x="323.4" y="458.8" width="18" height="5.2" rx="2.6" fill="#111" opacity="0.8" filter="url(#b2)"/>
<rect x="346.6" y="458.7" width="18" height="5.4" rx="2.7" fill="#111" opacity="0.78" filter="url(#b2)"/>
<rect x="299.45" y="484.5" width="19.5" height="5" rx="2.5" fill="#111" opacity="0.55" filter="url(#b2)"/>
<rect x="301" y="515.1" width="16" height="1.4" rx="0.7" fill="#111" opacity="0.42" filter="url(#b2)"/>
<rect x="324.15" y="513.2" width="16.5" height="3.6" rx="1.8" fill="#111" opacity="0.62" filter="url(#b2)"/>
<rect x="347.35" y="513.2" width="16.5" height="3.6" rx="1.8" fill="#111" opacity="0.62" filter="url(#b2)"/>
<rect x="325.4" y="519.5" width="14" height="2.2" rx="1.1" fill="#111" opacity="0.2" filter="url(#b2)"/>
<rect x="348.6" y="519.5" width="14" height="2.2" rx="1.1" fill="#111" opacity="0.2" filter="url(#b2)"/>
<rect x="300" y="541.3" width="18" height="2.6" rx="1.3" fill="#111" opacity="0.16" filter="url(#b2)"/>
<rect x="324.8" y="541.1" width="16" height="2.6" rx="1.3" fill="#111" opacity="0.46" filter="url(#b2)"/>
<rect x="347.6" y="540.8" width="16" height="2.8" rx="1.4" fill="#111" opacity="0.55" filter="url(#b2)"/>
<rect x="322.7" y="564.8" width="19" height="7.2" rx="3.6" fill="#111" opacity="0.85" filter="url(#b2)"/>
<rect x="346.3" y="564.6" width="19" height="7.6" rx="3.8" fill="#111" opacity="0.88" filter="url(#b2)"/>
<rect x="299.1" y="594.4" width="20" height="4" rx="2" fill="#111" opacity="0.58" filter="url(#b2)"/>
<rect x="322.1" y="594.4" width="21" height="4" rx="2" fill="#111" opacity="0.58" filter="url(#b2)"/>
<rect x="346" y="594.4" width="20" height="4" rx="2" fill="#111" opacity="0.58" filter="url(#b2)"/>
<rect x="299.4" y="595.2" width="67.6" height="2.4" fill="#111" opacity="0.2" filter="url(#b2)"/>
</g>
<text x="369.4" y="466" fill="#111" stroke="#111" font-size="12.6">Nrf2</text>
<text x="369.4" y="492.7" fill="#111" stroke="#111" font-size="12.6">Keap1</text>
<text x="369.4" y="521.5" fill="#111" stroke="#111" font-size="12.6">HO1</text>
<text x="369.4" y="547" fill="#111" stroke="#111" font-size="12.6">NQO1</text>
<text x="369.4" y="573.2" fill="#111" stroke="#111" font-size="12.6">GCLC</text>
<text x="369.4" y="599.8" fill="#111" stroke="#111" font-size="12.6">Tubulin</text>
<text x="298.3" y="464.43" text-anchor="end" fill="#2a2a2a" stroke="#2a2a2a" font-size="9.25">100kD-</text>
<text x="296.2" y="491.23" text-anchor="end" fill="#2a2a2a" stroke="#2a2a2a" font-size="9.8">60kD-</text>
<text x="296.2" y="518.23" text-anchor="end" fill="#2a2a2a" stroke="#2a2a2a" font-size="9.8">28kD-</text>
<text x="296.2" y="545.23" text-anchor="end" fill="#2a2a2a" stroke="#2a2a2a" font-size="9.8">29kD-</text>
<text x="296.2" y="571.53" text-anchor="end" fill="#2a2a2a" stroke="#2a2a2a" font-size="9.8">73kD-</text>
<text x="296.2" y="598.33" text-anchor="end" fill="#2a2a2a" stroke="#2a2a2a" font-size="9.8">55kD-</text>
<text fill="#111" stroke="#111" transform="translate(312.3 446.6) rotate(-90)" font-size="13">Cas9-C</text>
<text x="321" y="429" fill="#111" stroke="#111" font-size="13">ko-Keap1</text>
<line x1="322.2" y1="433.6" x2="369" y2="433.6" stroke="#222" stroke-width="1"/>
<text x="344.4" y="445.7" fill="#111" stroke="#111" font-size="13">+Cpd16, 8h</text>
</svg></body></html>
